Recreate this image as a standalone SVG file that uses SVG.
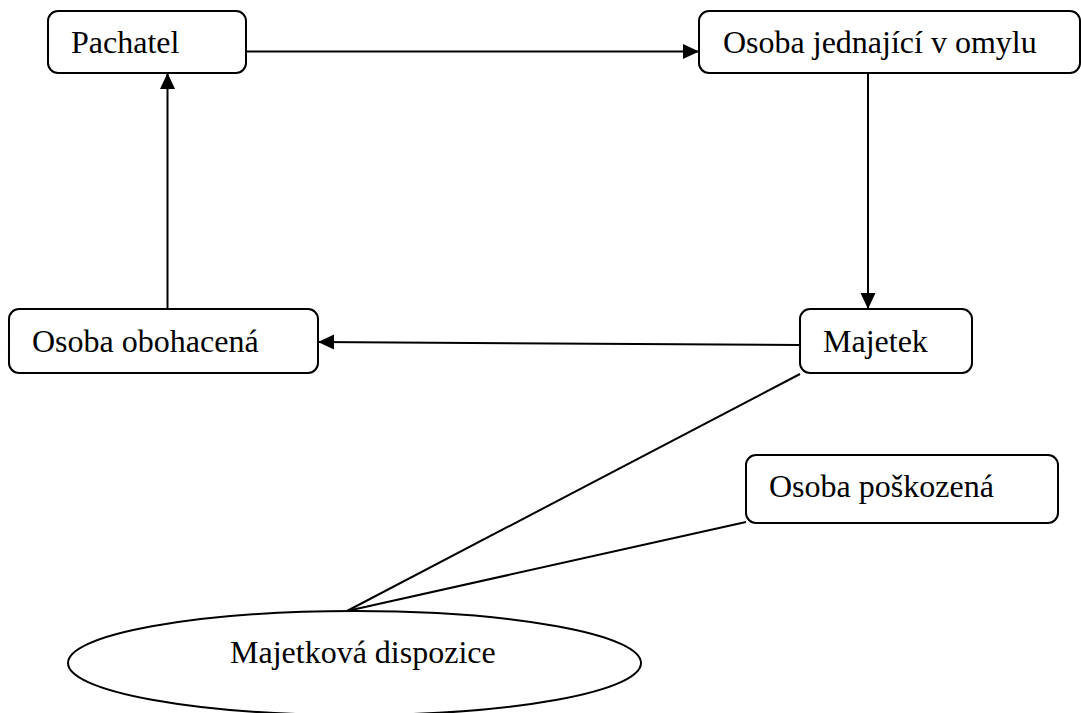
<svg xmlns="http://www.w3.org/2000/svg" width="1081" height="713" viewBox="0 0 1081 713">
<style>
.box{fill:#fff;stroke:#000;stroke-width:2}
.lbl{font-family:"Liberation Serif","Times New Roman",serif;font-size:32px;fill:#000}
.con{fill:none;stroke:#000;stroke-width:2}
</style>
<defs>
<marker id="arr" markerUnits="userSpaceOnUse" markerWidth="16" markerHeight="16" viewBox="0 0 16 16" refX="16" refY="8" orient="auto">
<path d="M0,0.5 L16,8 L0,15.5 Z" fill="#000"/>
</marker>
</defs>
<rect width="1081" height="713" fill="#fff"/>
<g id="connectors">
<line class="con" x1="246" y1="51.5" x2="699" y2="51.5" marker-end="url(#arr)"/>
<line class="con" x1="868" y1="73" x2="868" y2="309" marker-end="url(#arr)"/>
<line class="con" x1="800" y1="345" x2="318" y2="342" marker-end="url(#arr)"/>
<line class="con" x1="167.5" y1="309" x2="167.5" y2="73" marker-end="url(#arr)"/>
<line class="con" x1="800" y1="374" x2="347" y2="611"/>
<line class="con" x1="746" y1="522" x2="347" y2="611"/>
</g>
<g id="pachatel">
<rect class="box" x="48" y="11" width="198" height="62" rx="10"/>
<text class="lbl" x="71" y="53">Pachatel</text>
</g>
<g id="osoba-jednajici">
<rect class="box" x="699" y="11" width="381" height="62" rx="10"/>
<text class="lbl" x="723" y="53">Osoba jednající v omylu</text>
</g>
<g id="osoba-obohacena">
<rect class="box" x="9" y="309" width="309" height="64" rx="10"/>
<text class="lbl" x="32" y="352">Osoba obohacená</text>
</g>
<g id="majetek">
<rect class="box" x="800" y="309" width="172" height="64" rx="10"/>
<text class="lbl" x="823" y="352">Majetek</text>
</g>
<g id="osoba-poskozena">
<rect class="box" x="746" y="455" width="312" height="68" rx="10"/>
<text class="lbl" x="769" y="497">Osoba poškozená</text>
</g>
<g id="majetkova-dispozice">
<ellipse class="box" cx="354.5" cy="663" rx="286.5" ry="52"/>
<text class="lbl" x="230" y="663">Majetková dispozice</text>
</g>
</svg>
